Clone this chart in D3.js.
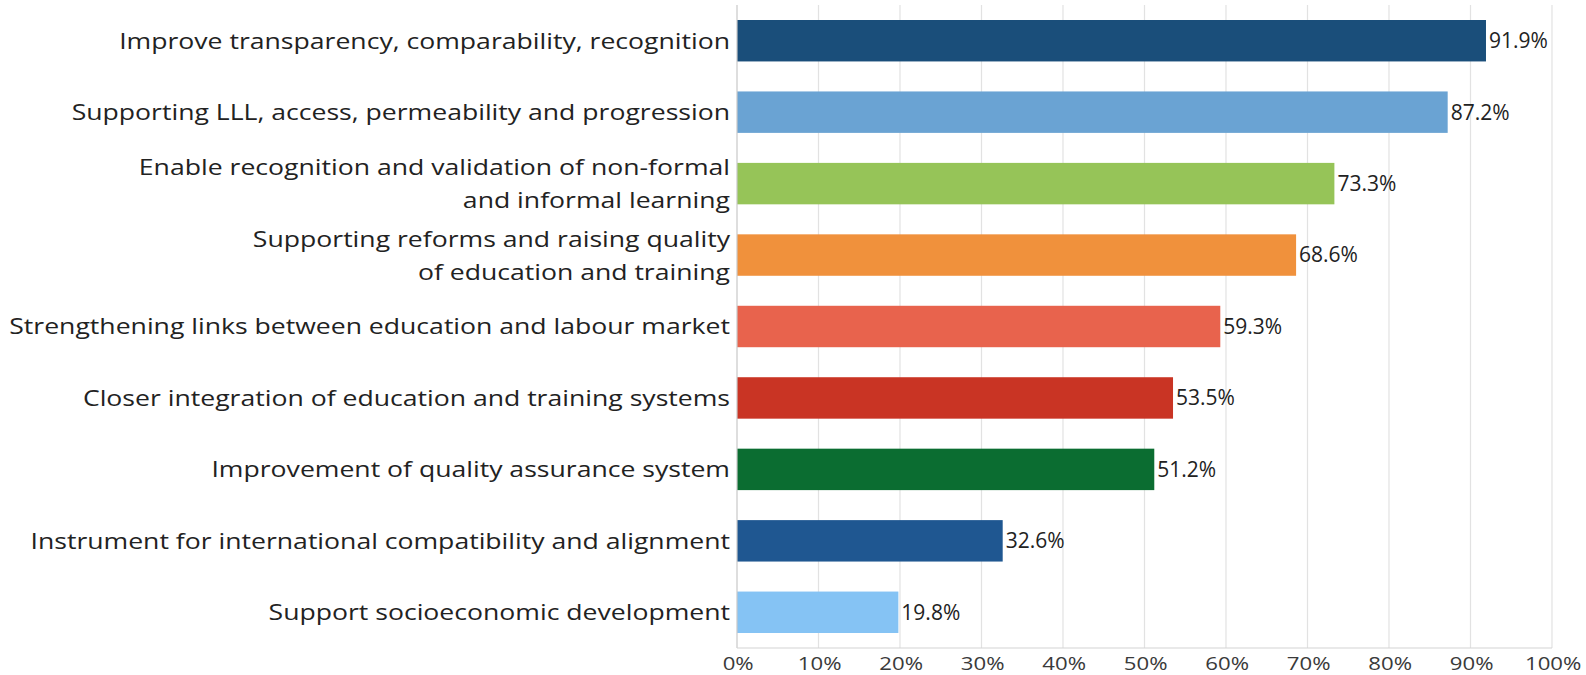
<!DOCTYPE html>
<html><head><meta charset="utf-8">
<script src="https://cdn.jsdelivr.net/npm/d3@7"></script>
<style>body{margin:0;background:#fff}svg{display:block}</style>
</head><body>
<svg id="c" width="1586" height="675"></svg>
<script>
const categories = [
  ["Improve transparency, comparability, recognition"],
  ["Supporting LLL, access, permeability and progression"],
  ["Enable recognition and validation of non-formal", "and informal learning"],
  ["Supporting reforms and raising quality", "of education and training"],
  ["Strengthening links between education and labour market"],
  ["Closer integration of education and training systems"],
  ["Improvement of quality assurance system"],
  ["Instrument for international compatibility and alignment"],
  ["Support socioeconomic development"]
];
const values = [91.9, 87.2, 73.3, 68.6, 59.3, 53.5, 51.2, 32.6, 19.8];
const colors = ["#1a4e7a","#6aa3d3","#96c458","#f0913c","#e8634d","#c93424","#0b6d31","#1f5791","#85c3f4"];
const tickValues = [0,10,20,30,40,50,60,70,80,90,100];
const tickLabels = ["0%","10%","20%","30%","40%","50%","60%","70%","80%","90%","100%"];

const svg = d3.select("#c");
const font = "'Open Sans', sans-serif";
const x = d3.scaleLinear().domain([0,100]).range([737,1552]);
const y = d3.scaleBand().domain(d3.range(categories.length)).range([5,648]).paddingInner(0.42).paddingOuter(0.21);

// gridlines
svg.append("g").selectAll("line").data(tickValues.slice(1)).join("line")
  .attr("x1", d=>x(d)).attr("x2", d=>x(d)).attr("y1", 5).attr("y2", 648)
  .attr("stroke", "#e2e2e2").attr("stroke-width", 1.2);

// bars
svg.append("g").selectAll("rect").data(values).join("rect")
  .attr("x", x(0)).attr("y", (d,i)=>y(i)).attr("height", y.bandwidth())
  .attr("width", d=>x(d)-x(0)).attr("fill", (d,i)=>colors[i]);

// axes lines
svg.append("line").attr("x1", x(0)).attr("x2", x(0)).attr("y1", 5).attr("y2", 648).attr("stroke", "#c8c8c8").attr("stroke-width", 1.2);
svg.append("line").attr("x1", x(0)).attr("x2", x(100)).attr("y1", 648).attr("y2", 648).attr("stroke", "#d4d4d4").attr("stroke-width", 1.2);

// x tick labels (slightly wide lettering, as in the reference)
const tsx = 1.2;
svg.append("g").selectAll("text").data(tickValues).join("text")
  .attr("x", d=>x(d)+1).attr("y", 664).attr("dy", "0.35em").attr("text-anchor", "middle")
  .attr("transform", d=>`translate(${x(d)},0) scale(${tsx},1) translate(${-x(d)},0)`)
  .attr("font-family", font).attr("font-size", 18.5).attr("fill", "#3a3a3a")
  .text((d,i)=>tickLabels[i]);

// category labels
const labelRight = 730;
const lab = svg.append("g").selectAll("text").data(categories).join("text")
  .attr("text-anchor", "end").attr("font-family", font).attr("font-size", 22.5).attr("fill", "#222");
lab.each(function(lines, i){
  const cy = y(i) + y.bandwidth()/2;
  const t = d3.select(this);
  const off = lines.length === 1 ? [0] : [-16, 17];
  lines.forEach((ln, j) => {
    t.append("tspan").attr("x", labelRight).attr("y", cy + off[j]).attr("dy", "0.35em").text(ln);
  });
});
let maxW = 0;
lab.each(function(){ maxW = Math.max(maxW, this.getBBox().width); });
const sx = Math.max(1, (labelRight - 9) / maxW);
lab.attr("transform", `translate(${labelRight},0) scale(${sx},1) translate(${-labelRight},0)`);

// value labels
svg.append("g").selectAll("text").data(values).join("text")
  .attr("x", d=>x(d)+3).attr("y", (d,i)=>y(i)+y.bandwidth()/2).attr("dy","0.35em")
  .attr("font-family", font).attr("font-size", 21).attr("fill", "#222")
  .text(d=>d.toFixed(1)+"%");
</script>
</body></html>
